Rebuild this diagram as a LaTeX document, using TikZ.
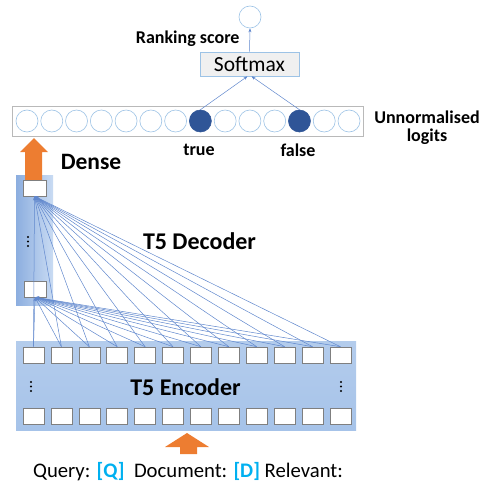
\documentclass[tikz,border=0pt]{standalone}
\usepackage{fontspec}
\setmainfont{Carlito}
\usetikzlibrary{arrows.meta,calc}
\definecolor{linkblue}{HTML}{4472C4}
\definecolor{ringblue}{HTML}{9DC3E6}
\definecolor{darkblue}{HTML}{2F5597}
\definecolor{orng}{HTML}{ED7D31}
\definecolor{cyanq}{HTML}{00B0F0}
\definecolor{encfill}{HTML}{A6C3E9}
\definecolor{decdark}{HTML}{8CAEDF}
\definecolor{declight}{HTML}{C9DBF3}
\definecolor{cellgray}{HTML}{7F7F7F}

\begin{document}
\begin{tikzpicture}[x=1pt,y=-1pt,
  conn/.style={draw=linkblue!85, line width=0.5pt, -{Stealth[length=4pt,width=3pt]}},
  ring/.style={circle, draw=ringblue, line width=0.6pt, minimum size=22pt, inner sep=0pt},
  hot/.style={ring, draw=darkblue, fill=darkblue},
  cell/.style={draw=cellgray, fill=white, line width=0.6pt, minimum width=21pt, minimum height=16pt, inner sep=0pt},
  lbl/.style={font=\bfseries\fontsize{18}{20}\selectfont},
  big/.style={font=\bfseries\fontsize{24}{26}\selectfont},
  fatarrow/.style={fill=orng}
]
\useasboundingbox (0,0) rectangle (482,487);

% --- output: softmax and ranking score ---
\node[ring] (score) at (250,17) {};
\node[draw=ringblue, fill=gray!12, line width=0.6pt, minimum width=99pt, minimum height=24pt, inner sep=0pt,
      font=\fontsize{21.5}{22}\selectfont] (soft) at (249.5,64) {Softmax};
\draw[conn] (soft.north) -- (score.south);
\node[lbl, anchor=east] (rank) at (243,39) {Ranking score};

% --- unnormalised logits ---
\node[draw=gray!55, fill=white, line width=0.6pt, minimum width=351pt, minimum height=30pt, inner sep=0pt] (logits) at (187.5,121) {};
\foreach \i in {1,...,14} {
  \pgfmathsetmacro{\xx}{27+24.77*(\i-1)}
  \ifnum\i=8
    \node[hot] (l\i) at (\xx,121) {};
  \else\ifnum\i=12
    \node[hot] (l\i) at (\xx,121) {};
  \else
    \node[ring] (l\i) at (\xx,121) {};
  \fi\fi
}
\draw[conn] (l8.north) -- ($(soft.south)+(-2,0)$);
\draw[conn] (l12.north) -- ($(soft.south)+(2,0)$);
\node[lbl] (ltrue) at (199,150) {true};
\node[lbl] (lfalse) at (298,150) {false};
\node[lbl, align=center] (unnorm) at (427,128) {Unnormalised\\[-2pt]logits};

% --- T5 decoder column ---
\shade[left color=decdark, right color=declight] (16,175) rectangle (53,305);
\fill[fatarrow] (25,180) -- (25,152) -- (20,152) -- (34,138) -- (48,152) -- (42,152) -- (42,180) -- cycle;
\node[cell, minimum width=23pt] (dtop) at (34.5,188) {};
\node[cell, minimum width=22pt] (dbot) at (35,289) {};
\foreach \yy in {237,241.5,246} \fill (28,\yy) circle (1.1);
\node[big, font=\bfseries\fontsize{23.5}{25}\selectfont] (dense) at (91,162) {Dense};
\node[big] (dec) at (199.5,241) {T5 Decoder};

% --- T5 encoder block ---
\shade[top color=encfill!85!white, bottom color=encfill] (16,341) rectangle (356,430);
\foreach \i in {1,...,12} {
  \pgfmathsetmacro{\xx}{33.5+27.9*(\i-1)}
  \node[cell] (e\i) at (\xx,355) {};
  \node[cell] (b\i) at (\xx,416) {};
}
\foreach \yy in {382,386.5,391} {
  \fill (31,\yy) circle (1.1);
  \fill (341,\yy) circle (1.1);
}
\node[big] (enc) at (185.5,387) {T5 Encoder};

% --- attention links from encoder outputs into the decoder ---
\foreach \i in {1,...,12} {
  \draw[conn] (e\i.north) -- (dtop.south);
  \draw[conn] (e\i.north) -- (dbot.south);
}

% --- input ---
\fill[fatarrow] (180,454) -- (180,447) -- (165,447) -- (187,433) -- (209,447) -- (197,447) -- (197,454) -- cycle;
\node[font=\fontsize{20.7}{22}\selectfont] (query) at (188,472)
  {Query: {\bfseries\color{cyanq}[Q]}\ \ Document: {\bfseries\color{cyanq}[D]} Relevant:};
\end{tikzpicture}
\end{document}
